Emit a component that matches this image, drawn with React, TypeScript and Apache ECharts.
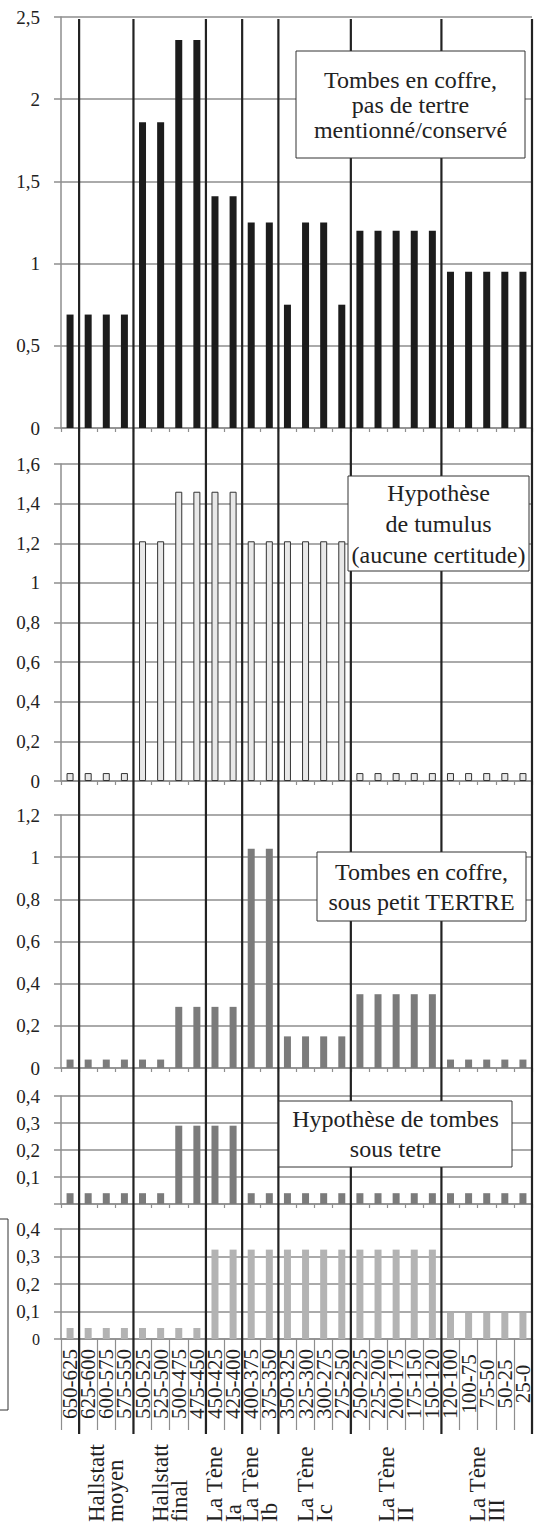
import React, { useEffect, useRef } from "react";
import * as echarts from "echarts";

const categories = [
  "650-625", "625-600", "600-575", "575-550", "550-525", "525-500", "500-475",
  "475-450", "450-425", "425-400", "400-375", "375-350", "350-325", "325-300",
  "300-275", "275-250", "250-225", "225-200", "200-175", "175-150", "150-120",
  "120-100", "100-75", "75-50", "50-25", "25-0",
];

const tombesCoffre = [
  0.69, 0.69, 0.69, 0.69, 1.86, 1.86, 2.36, 2.36, 1.41, 1.41, 1.25, 1.25, 0.75,
  1.25, 1.25, 0.75, 1.2, 1.2, 1.2, 1.2, 1.2, 0.95, 0.95, 0.95, 0.95, 0.95,
];

const hypotheseTumulus = [
  0.04, 0.04, 0.04, 0.04, 1.21, 1.21, 1.46, 1.46, 1.46, 1.46, 1.21, 1.21, 1.21,
  1.21, 1.21, 1.21, 0.04, 0.04, 0.04, 0.04, 0.04, 0.04, 0.04, 0.04, 0.04, 0.04,
];

const coffrePetitTertre = [
  0.04, 0.04, 0.04, 0.04, 0.04, 0.04, 0.29, 0.29, 0.29, 0.29, 1.04, 1.04, 0.15,
  0.15, 0.15, 0.15, 0.35, 0.35, 0.35, 0.35, 0.35, 0.04, 0.04, 0.04, 0.04, 0.04,
];

const hypotheseTombesTertre = [
  0.04, 0.04, 0.04, 0.04, 0.04, 0.04, 0.29, 0.29, 0.29, 0.29, 0.04, 0.04, 0.04,
  0.04, 0.04, 0.04, 0.04, 0.04, 0.04, 0.04, 0.04, 0.04, 0.04, 0.04, 0.04, 0.04,
];

const cinquiemeSerie = [
  0.04, 0.04, 0.04, 0.04, 0.04, 0.04, 0.04, 0.04, 0.325, 0.325, 0.325, 0.325,
  0.325, 0.325, 0.325, 0.325, 0.325, 0.325, 0.325, 0.325, 0.325, 0.095, 0.095,
  0.095, 0.095, 0.095,
];

const periodLabels = [
  "Hallstatt\nmoyen", "Hallstatt\nfinal", "La Tène\nIa", "La Tène\nIb",
  "La Tène\nIc", "La Tène\nII", "La Tène\nIII",
];
// category boundaries (index after which a period ends)
const periodBounds = [1, 4, 8, 10, 12, 16, 21, 26];

const yMax = [2.5, 1.6, 1.2, 0.4, 0.4];
const yInterval = [0.5, 0.2, 0.2, 0.1, 0.1];

const boxTexts = [
  "Tombes en coffre,\npas de tertre\nmentionné/conservé",
  "Hypothèse\nde tumulus\n(aucune certitude)",
  "Tombes en coffre,\nsous petit TERTRE",
  "Hypothèse de tombes\nsous tetre",
];

const FONT = "Liberation Serif, DejaVu Serif, serif";
const GRID_COLOR = "#8e8e8e";

export default function App() {
  const ref = useRef<HTMLDivElement>(null);

  useEffect(() => {
    document.body.style.margin = "0";
    const chart = echarts.init(ref.current!, undefined, { renderer: "svg" });

    const layout = [
      { top: 17, height: 411 },
      { top: 464, height: 317 },
      { top: 815, height: 253 },
      { top: 1096, height: 108 },
      { top: 1229, height: 110 },
    ];
    const seriesData = [
      tombesCoffre,
      hypotheseTumulus,
      coffrePetitTertre,
      hypotheseTombesTertre,
      cinquiemeSerie,
    ];
    const styles = [
      { color: "#1c1c1c" },
      { color: "#e8e8e8", borderColor: "#333", borderWidth: 1 },
      { color: "#7b7b7b" },
      { color: "#7b7b7b" },
      { color: "#b3b3b3" },
    ];

    const left = 61;
    const right = 4;

    const grids: any[] = layout.map((l) => ({
      left,
      right,
      top: l.top,
      height: l.height,
      containLabel: false,
    }));
    grids.push({ left, right, top: 19, bottom: 94, containLabel: false });

    const xAxes: any[] = layout.map((_, i) => {
      const last = i === layout.length - 1;
      return {
        type: "category",
        gridIndex: i,
        data: categories,
        boundaryGap: true,
        axisLine: { show: true, lineStyle: { color: GRID_COLOR, width: 1.5 } },
        axisTick: {
          show: true,
          interval: 0,
          length: last ? 91 : 4,
          lineStyle: { color: GRID_COLOR, width: 1.2 },
        },
        axisLabel: last
          ? {
              show: true,
              interval: 0,
              rotate: 90,
              margin: 45,
              align: "center",
              verticalAlign: "middle",
              fontFamily: FONT,
              fontSize: 21,
              color: "#222",
            }
          : { show: false },
        splitLine: { show: false },
      };
    });
    xAxes.push({ type: "value", gridIndex: 5, min: 0, max: 26, show: false });

    const yAxes: any[] = layout.map((_, i) => ({
      type: "value",
      gridIndex: i,
      min: 0,
      max: yMax[i],
      interval: yInterval[i],
      axisLine: { show: true, lineStyle: { color: GRID_COLOR, width: 1.5 } },
      axisTick: { show: true, length: 7, lineStyle: { color: GRID_COLOR, width: 1.5 } },
      splitLine: { show: true, lineStyle: { color: GRID_COLOR, width: 1.5 } },
      axisLabel: {
        margin: 21,
        fontFamily: FONT,
        fontSize: 19,
        color: "#222",
        rich: { s: { fontFamily: FONT, fontSize: 16, color: "#222" } },
        formatter: (v: number) => {
          if (i === 3 && v === 0) return "";
          if (i === 4 && v === 0) return "{s|0}";
          return String(v).replace(".", ",");
        },
      },
    }));
    yAxes.push({ type: "value", gridIndex: 5, min: 0, max: 1, show: false });

    const series: any[] = seriesData.map((d, i) => ({
      type: "bar",
      xAxisIndex: i,
      yAxisIndex: i,
      data: d,
      barWidth: 7,
      itemStyle: styles[i],
      silent: true,
    }));

    series.push({
      type: "custom",
      xAxisIndex: 5,
      yAxisIndex: 5,
      clip: false,
      silent: true,
      z: 10,
      data: periodBounds.map((b) => [b, 0]),
      renderItem: (params: any, api: any) => {
        const x = api.value(0);
        const p0 = api.coord([x, 0]);
        const p1 = api.coord([x, 1]);
        return {
          type: "line",
          shape: { x1: p0[0], y1: p0[1], x2: p1[0], y2: p1[1] },
          style: { stroke: "#222", lineWidth: 2.2 },
        };
      },
    });

    series.push({
      type: "custom",
      xAxisIndex: 5,
      yAxisIndex: 5,
      clip: false,
      silent: true,
      z: 10,
      data: periodLabels.map((t, i) => [
        (periodBounds[i] + periodBounds[i + 1]) / 2,
        0,
        t,
      ]),
      renderItem: (params: any, api: any) => {
        const p = api.coord([api.value(0), 0]);
        return {
          type: "text",
          x: p[0],
          y: p[1] + 88,
          rotation: Math.PI / 2,
          style: {
            text: periodLabels[params.dataIndex],
            fontFamily: FONT,
            fontSize: 23,
            fill: "#222",
            align: "left",
            verticalAlign: "middle",
            lineHeight: 19,
          },
        };
      },
    });

    const boxes = [
      { x: 296, y: 51, w: 229, h: 107, lh: 25 },
      { x: 348, y: 476, w: 181, h: 95, lh: 31 },
      { x: 317, y: 852, w: 209, h: 69, lh: 30 },
      { x: 279, y: 1101, w: 233, h: 66, lh: 30 },
    ];

    const graphic: any[] = boxes.map((b, i) => ({
      type: "group",
      z: 100,
      children: [
        {
          type: "rect",
          z: 100,
          shape: { x: b.x, y: b.y, width: b.w, height: b.h },
          style: { fill: "#fff", stroke: "#333", lineWidth: 1 },
        },
        {
          type: "text",
          z: 101,
          x: b.x + b.w / 2,
          y: b.y + b.h / 2,
          style: {
            text: boxTexts[i],
            fontFamily: FONT,
            fontSize: 24,
            fill: "#222",
            align: "center",
            verticalAlign: "middle",
            lineHeight: b.lh,
          },
        },
      ],
    }));
    graphic.push({
      type: "rect",
      z: 100,
      shape: { x: -40, y: 1219, width: 48, height: 191 },
      style: { fill: "#fff", stroke: "#333", lineWidth: 1 },
    });

    chart.setOption({
      animation: false,
      backgroundColor: "#fff",
      textStyle: { fontFamily: FONT },
      grid: grids,
      xAxis: xAxes,
      yAxis: yAxes,
      series,
      graphic,
    });

    return () => chart.dispose();
  }, []);

  return (
    <div
      ref={ref}
      style={{ position: "absolute", left: 0, top: 0, width: 536, height: 1528 }}
    />
  );
}
